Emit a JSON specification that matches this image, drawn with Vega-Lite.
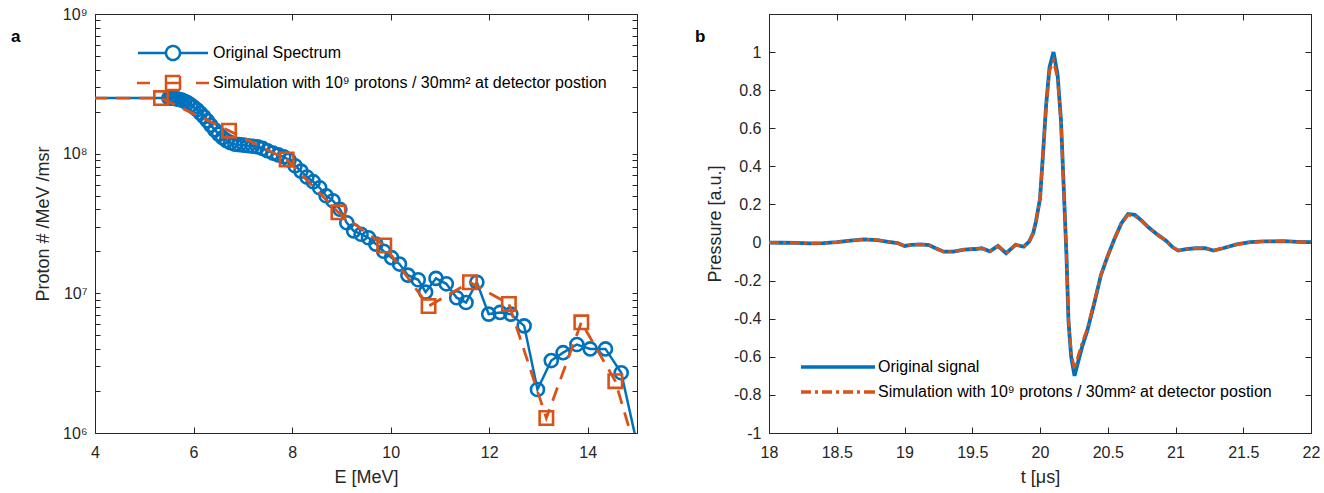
{
  "$schema": "https://vega.github.io/schema/vega-lite/v6.json",
  "background": "white",
  "padding": {"left": 10, "top": 5, "right": 5, "bottom": 5},
  "bounds": "flush",
  "spacing": 132,
  "resolve": {"scale": {"color": "independent"}, "legend": {"color": "independent"}},
  "config": {
    "font": "Liberation Sans",
    "view": {"stroke": "#262626", "strokeWidth": 1},
    "axis": {
      "grid": false,
      "labelFont": "Liberation Sans", "labelFontSize": 16, "labelColor": "#262626",
      "titleFont": "Liberation Sans", "titleFontSize": 18, "titleFontWeight": "normal", "titleColor": "#262626",
      "domainColor": "#262626", "tickColor": "#262626", "domainWidth": 1, "tickWidth": 1,
      "labelFlush": false, "labelOverlap": false, "labelBound": false
    }
  },
  "datasets": {
    "origSpectrum": [
      {"E":3.5,"N":2.5e8},{"E":5.5,"N":2.5e8},{"E":5.55,"N":2.5e8},{"E":5.6,"N":2.49e8},{"E":5.65,"N":2.47e8},
      {"E":5.7,"N":2.45e8},{"E":5.76,"N":2.42e8},{"E":5.82,"N":2.37e8},{"E":5.88,"N":2.31e8},{"E":5.94,"N":2.24e8},
      {"E":6.0,"N":2.16e8},{"E":6.07,"N":2.06e8},{"E":6.14,"N":1.95e8},{"E":6.21,"N":1.84e8},{"E":6.28,"N":1.72e8},
      {"E":6.35,"N":1.6e8},{"E":6.43,"N":1.48e8},{"E":6.51,"N":1.38e8},{"E":6.59,"N":1.3e8},{"E":6.67,"N":1.24e8},
      {"E":6.75,"N":1.2e8},{"E":6.84,"N":1.17e8},{"E":6.93,"N":1.16e8},{"E":7.02,"N":1.15e8},{"E":7.11,"N":1.14e8},
      {"E":7.2,"N":1.13e8},{"E":7.3,"N":1.12e8},{"E":7.4,"N":1.09e8},{"E":7.5,"N":1.05e8},{"E":7.61,"N":1.01e8},
      {"E":7.72,"N":9.8e7},{"E":7.83,"N":9.5e7},{"E":7.94,"N":9.0e7},{"E":8.06,"N":8.2e7},{"E":8.18,"N":7.5e7},
      {"E":8.3,"N":6.8e7},{"E":8.43,"N":6.3e7},{"E":8.56,"N":5.7e7},{"E":8.69,"N":5.0e7},{"E":8.83,"N":4.6e7},
      {"E":8.97,"N":4.0e7},{"E":9.11,"N":3.2e7},{"E":9.25,"N":2.8e7},{"E":9.4,"N":2.65e7},{"E":9.55,"N":2.5e7},
      {"E":9.7,"N":2.25e7},{"E":9.86,"N":2.0e7},{"E":10.02,"N":1.8e7},{"E":10.18,"N":1.62e7},{"E":10.35,"N":1.35e7},
      {"E":10.56,"N":1.25e7},{"E":10.71,"N":1.02e7},{"E":10.92,"N":1.28e7},{"E":11.13,"N":1.17e7},{"E":11.34,"N":9.3e6},
      {"E":11.53,"N":8.6e6},{"E":11.75,"N":1.2e7},{"E":11.99,"N":7.1e6},{"E":12.22,"N":7.3e6},{"E":12.44,"N":7.1e6},
      {"E":12.71,"N":5.85e6},{"E":12.98,"N":2.05e6},{"E":13.26,"N":3.3e6},{"E":13.5,"N":3.76e6},{"E":13.78,"N":4.3e6},
      {"E":14.05,"N":4.0e6},{"E":14.36,"N":4.0e6},{"E":14.68,"N":2.7e6},{"E":15.2,"N":4e5}
    ],
    "simSpectrum": [
      {"E":3.5,"N":2.5e8},{"E":5.34,"N":2.5e8},{"E":6.72,"N":1.46e8},{"E":7.89,"N":9.1e7},{"E":8.94,"N":3.8e7},
      {"E":9.87,"N":2.2e7},{"E":10.77,"N":8.1e6},{"E":11.61,"N":1.2e7},{"E":12.4,"N":8.4e6},{"E":13.16,"N":1.28e6},
      {"E":13.87,"N":6.2e6},{"E":14.56,"N":2.35e6},{"E":15.2,"N":4e5}
    ],
    "origSignal": [
      {"t":18.0,"P":0.0},{"t":18.1,"P":-0.001},{"t":18.2,"P":-0.002},{"t":18.3,"P":-0.004},{"t":18.4,"P":-0.003},
      {"t":18.5,"P":0.002},{"t":18.6,"P":0.01},{"t":18.7,"P":0.017},{"t":18.8,"P":0.013},{"t":18.88,"P":0.004},
      {"t":18.95,"P":-0.003},{"t":19.0,"P":-0.018},{"t":19.05,"P":-0.012},{"t":19.12,"P":-0.01},{"t":19.18,"P":-0.013},
      {"t":19.23,"P":-0.03},{"t":19.29,"P":-0.048},{"t":19.36,"P":-0.048},{"t":19.44,"P":-0.037},{"t":19.52,"P":-0.034},
      {"t":19.57,"P":-0.03},{"t":19.63,"P":-0.046},{"t":19.69,"P":-0.018},{"t":19.75,"P":-0.056},{"t":19.82,"P":-0.012},
      {"t":19.88,"P":-0.022},{"t":19.92,"P":0.005},{"t":19.95,"P":0.05},{"t":19.97,"P":0.11},{"t":20.0,"P":0.23},
      {"t":20.02,"P":0.44},{"t":20.045,"P":0.72},{"t":20.07,"P":0.92},{"t":20.1,"P":1.0},{"t":20.13,"P":0.88},
      {"t":20.155,"P":0.64},{"t":20.175,"P":0.29},{"t":20.195,"P":-0.06},{"t":20.21,"P":-0.41},{"t":20.23,"P":-0.6},
      {"t":20.255,"P":-0.7},{"t":20.28,"P":-0.63},{"t":20.31,"P":-0.55},{"t":20.35,"P":-0.46},{"t":20.4,"P":-0.32},
      {"t":20.45,"P":-0.17},{"t":20.5,"P":-0.07},{"t":20.55,"P":0.02},{"t":20.6,"P":0.1},{"t":20.65,"P":0.15},
      {"t":20.7,"P":0.145},{"t":20.75,"P":0.115},{"t":20.8,"P":0.08},{"t":20.87,"P":0.04},{"t":20.93,"P":0.01},
      {"t":20.98,"P":-0.025},{"t":21.02,"P":-0.042},{"t":21.08,"P":-0.035},{"t":21.15,"P":-0.03},{"t":21.22,"P":-0.03},
      {"t":21.28,"P":-0.042},{"t":21.35,"P":-0.03},{"t":21.45,"P":-0.01},{"t":21.55,"P":0.002},{"t":21.65,"P":0.006},
      {"t":21.8,"P":0.007},{"t":21.9,"P":0.004},{"t":22.0,"P":0.002}
    ],
    "simSignal": [
      {"t":18.0,"P":0.0},{"t":18.1,"P":-0.001},{"t":18.2,"P":-0.002},{"t":18.3,"P":-0.004},{"t":18.4,"P":-0.003},
      {"t":18.5,"P":0.002},{"t":18.6,"P":0.01},{"t":18.7,"P":0.017},{"t":18.8,"P":0.013},{"t":18.88,"P":0.004},
      {"t":18.95,"P":-0.003},{"t":19.0,"P":-0.018},{"t":19.05,"P":-0.012},{"t":19.12,"P":-0.01},{"t":19.18,"P":-0.013},
      {"t":19.23,"P":-0.03},{"t":19.29,"P":-0.048},{"t":19.36,"P":-0.048},{"t":19.44,"P":-0.037},{"t":19.52,"P":-0.034},
      {"t":19.57,"P":-0.03},{"t":19.63,"P":-0.046},{"t":19.69,"P":-0.018},{"t":19.75,"P":-0.056},{"t":19.82,"P":-0.012},
      {"t":19.88,"P":-0.022},{"t":19.92,"P":0.005},{"t":19.95,"P":0.05},{"t":19.97,"P":0.11},{"t":20.0,"P":0.23},
      {"t":20.02,"P":0.44},{"t":20.045,"P":0.71},{"t":20.07,"P":0.9},{"t":20.1,"P":0.955},{"t":20.13,"P":0.86},
      {"t":20.155,"P":0.63},{"t":20.175,"P":0.29},{"t":20.195,"P":-0.06},{"t":20.21,"P":-0.4},{"t":20.23,"P":-0.58},
      {"t":20.255,"P":-0.665},{"t":20.28,"P":-0.6},{"t":20.31,"P":-0.53},{"t":20.35,"P":-0.45},{"t":20.4,"P":-0.31},
      {"t":20.45,"P":-0.17},{"t":20.5,"P":-0.07},{"t":20.55,"P":0.02},{"t":20.6,"P":0.1},{"t":20.65,"P":0.145},
      {"t":20.7,"P":0.14},{"t":20.75,"P":0.112},{"t":20.8,"P":0.08},{"t":20.87,"P":0.04},{"t":20.93,"P":0.01},
      {"t":20.98,"P":-0.025},{"t":21.02,"P":-0.042},{"t":21.08,"P":-0.035},{"t":21.15,"P":-0.03},{"t":21.22,"P":-0.03},
      {"t":21.28,"P":-0.042},{"t":21.35,"P":-0.03},{"t":21.45,"P":-0.01},{"t":21.55,"P":0.002},{"t":21.65,"P":0.006},
      {"t":21.8,"P":0.007},{"t":21.9,"P":0.004},{"t":22.0,"P":0.002}
    ]
  },
  "hconcat": [
    {
      "width": 542,
      "height": 419,
      "title": {"text": "a", "anchor": "start", "frame": "group", "dx": -84, "dy": 53, "offset": 0, "baseline": "alphabetic", "font": "Liberation Sans", "fontSize": 17, "fontWeight": "bold", "color": "#000000"},
      "layer": [
        {
          "data": {"name": "origSpectrum"},
          "mark": {"type": "line", "clip": true, "strokeWidth": 2.5},
          "encoding": {
            "x": {"field": "E", "type": "quantitative", "scale": {"domain": [4, 15], "nice": false, "zero": false},
                  "axis": {"values": [4, 6, 8, 10, 12, 14], "title": "E [MeV]", "tickSize": -6, "labelPadding": 17, "titlePadding": 8}},
            "y": {"field": "N", "type": "quantitative", "scale": {"type": "log", "domain": [1000000, 1000000000], "nice": false},
                  "axis": {"values": [1e6,2e6,3e6,4e6,5e6,6e6,7e6,8e6,9e6,1e7,2e7,3e7,4e7,5e7,6e7,7e7,8e7,9e7,1e8,2e8,3e8,4e8,5e8,6e8,7e8,8e8,9e8,1e9],
                           "labelExpr": "datum.value == 1e9 ? '10⁹' : datum.value == 1e8 ? '10⁸' : datum.value == 1e7 ? '10⁷' : datum.value == 1e6 ? '10⁶' : ''",
                           "title": "Proton # /MeV /msr", "tickSize": -5, "labelPadding": 13, "titlePadding": 10}},
            "color": {"datum": "Original Spectrum", "type": "nominal",
              "scale": {"domain": ["Original Spectrum", "Simulation with 10⁹ protons / 30mm² at detector postion"], "range": ["#0072BD", "#D95319"]},
              "legend": {
                "orient": "none", "legendX": 70, "legendY": 31, "title": null, "padding": 0,
                "symbolType": "M-1,0H1", "symbolSize": 100, "symbolStrokeWidth": 2.5,
                "labelFont": "Liberation Sans", "labelFontSize": 16, "labelColor": "#000000", "labelOffset": 32, "labelLimit": 700, "rowPadding": 6,
                "encode": {"symbols": {"update": {
                  "shape": {"signal": "datum.value == 'Original Spectrum' ? 'M-7,0H-1.4M1.4,0H7M1.4,0A1.4,1.4 0 1 1 -1.4,0A1.4,1.4 0 1 1 1.4,0' : 'M-7.2,0H-4.6M4.6,0H7.2M-1.4,-1.4H1.4V1.4H-1.4ZM-1.4,0H1.4'"},
                  "fill": {"value": "transparent"},
                  "strokeWidth": {"value": 2.5},
                  "strokeDash": {"value": [1, 0]},
                  "opacity": {"value": 1}
                }}}
              }}
          }
        },
        {
          "data": {"name": "origSpectrum"},
          "transform": [{"filter": "datum.E >= 4 && datum.E <= 15"}],
          "mark": {"type": "point", "shape": "circle", "filled": false, "size": 170, "strokeWidth": 2.6, "color": "#0072BD", "opacity": 1, "clip": true},
          "encoding": {
            "x": {"field": "E", "type": "quantitative", "axis": {"orient": "top", "values": [4, 6, 8, 10, 12, 14], "labels": false, "title": null, "tickSize": -6}},
            "y": {"field": "N", "type": "quantitative", "axis": {"orient": "right", "values": [1e6,2e6,3e6,4e6,5e6,6e6,7e6,8e6,9e6,1e7,2e7,3e7,4e7,5e7,6e7,7e7,8e7,9e7,1e8,2e8,3e8,4e8,5e8,6e8,7e8,8e8,9e8,1e9], "labels": false, "title": null, "tickSize": -5}}
          }
        },
        {
          "data": {"name": "simSpectrum"},
          "mark": {"type": "line", "clip": true, "strokeWidth": 2.8, "strokeDash": [14, 9]},
          "encoding": {
            "x": {"field": "E", "type": "quantitative", "axis": null},
            "y": {"field": "N", "type": "quantitative", "axis": null},
            "color": {"datum": "Simulation with 10⁹ protons / 30mm² at detector postion", "type": "nominal"}
          }
        },
        {
          "data": {"name": "simSpectrum"},
          "transform": [{"filter": "datum.E >= 4 && datum.E <= 15"}],
          "mark": {"type": "point", "shape": "square", "filled": false, "size": 180, "strokeWidth": 2.6, "color": "#D95319", "opacity": 1, "clip": true},
          "encoding": {
            "x": {"field": "E", "type": "quantitative", "axis": null},
            "y": {"field": "N", "type": "quantitative", "axis": null}
          }
        }
      ],
      "resolve": {"axis": {"x": "independent", "y": "independent"}}
    },
    {
      "width": 542,
      "height": 419,
      "title": {"text": "b", "anchor": "start", "frame": "group", "dx": -74, "dy": 45, "offset": 0, "baseline": "alphabetic", "font": "Liberation Sans", "fontSize": 17, "fontWeight": "bold", "color": "#000000"},
      "layer": [
        {
          "data": {"name": "origSignal"},
          "mark": {"type": "line", "clip": true, "strokeWidth": 3.8},
          "encoding": {
            "x": {"field": "t", "type": "quantitative", "scale": {"domain": [18, 22], "nice": false, "zero": false},
                  "axis": {"values": [18, 18.5, 19, 19.5, 20, 20.5, 21, 21.5, 22], "labelExpr": "format(datum.value, '')", "title": "t [μs]", "tickSize": -6, "labelPadding": 17, "titlePadding": 8}},
            "y": {"field": "P", "type": "quantitative", "scale": {"domain": [-1, 1.2], "nice": false, "zero": false},
                  "axis": {"values": [-1, -0.8, -0.6, -0.4, -0.2, 0, 0.2, 0.4, 0.6, 0.8, 1],
                           "labelExpr": "(datum.value < 0 ? '-' : '') + format(abs(datum.value), '')",
                           "title": "Pressure [a.u.]", "tickSize": -6, "labelPadding": 14, "titlePadding": 9}},
            "color": {"datum": "Original signal", "type": "nominal",
              "scale": {"domain": ["Original signal", "Simulation with 10⁹ protons / 30mm² at detector postion"], "range": ["#0072BD", "#D95319"]},
              "legend": {
                "orient": "none", "legendX": 61, "legendY": 345, "title": null, "padding": 0,
                "symbolType": "M-1,0H1", "symbolSize": 100, "symbolStrokeWidth": 3,
                "labelFont": "Liberation Sans", "labelFontSize": 16, "labelColor": "#000000", "labelOffset": 32, "labelLimit": 700, "rowPadding": 9,
                "encode": {"symbols": {"update": {
                  "shape": {"signal": "datum.value == 'Original signal' ? 'M-7.4,0H7.4' : 'M-7.4,0H-5.4M-4.6,0H-4M-3.2,0H-1.2M-0.4,0H0.2M1,0H3M3.8,0H4.4M5.2,0H7.4'"},
                  "fill": {"value": "transparent"},
                  "strokeWidth": {"value": 3.4},
                  "strokeDash": {"value": [1, 0]},
                  "opacity": {"value": 1}
                }}}
              }}
          }
        },
        {
          "data": {"name": "simSignal"},
          "mark": {"type": "line", "clip": true, "strokeWidth": 3, "strokeDash": [10, 4, 3, 4]},
          "encoding": {
            "x": {"field": "t", "type": "quantitative", "axis": {"orient": "top", "values": [18, 18.5, 19, 19.5, 20, 20.5, 21, 21.5, 22], "labels": false, "title": null, "tickSize": -6}},
            "y": {"field": "P", "type": "quantitative", "axis": {"orient": "right", "values": [-1, -0.8, -0.6, -0.4, -0.2, 0, 0.2, 0.4, 0.6, 0.8, 1], "labels": false, "title": null, "tickSize": -6}},
            "color": {"datum": "Simulation with 10⁹ protons / 30mm² at detector postion", "type": "nominal"}
          }
        }
      ],
      "resolve": {"axis": {"x": "independent", "y": "independent"}}
    }
  ]
}
